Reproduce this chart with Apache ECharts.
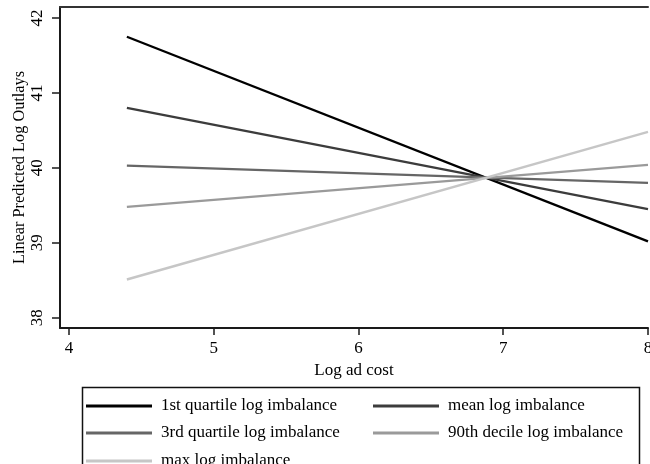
<!DOCTYPE html>
<html>
<head>
<meta charset="utf-8">
<script src="https://cdn.jsdelivr.net/npm/echarts@6/dist/echarts.min.js"></script>
<style>
html,body{margin:0;padding:0;background:#fff;}
#chart{width:650px;height:464px;}
</style>
</head>
<body>
<div id="chart"></div>
<script>
// Data
const logAdCost = [4.4, 8];
const seriesNames = ['1st quartile log imbalance', 'mean log imbalance', '3rd quartile log imbalance', '90th decile log imbalance', 'max log imbalance'];
const firstQuartile = [41.75, 39.02];
const meanImbalance = [40.80, 39.45];
const thirdQuartile = [40.03, 39.80];
const decile90 = [39.48, 40.04];
const maxImbalance = [38.51, 40.48];
const xTicks = [4, 5, 6, 7, 8];
const yTicks = [38, 39, 40, 41, 42];

const seriesValues = [firstQuartile, meanImbalance, thirdQuartile, decile90, maxImbalance];
const colors = ['#000000', '#3c3c3c', '#666666', '#9a9a9a', '#c6c6c6'];
const FONT = '"Liberation Serif", "Times New Roman", serif';

const chart = echarts.init(document.getElementById('chart'), null, {renderer: 'canvas'});

const series = seriesNames.map((name, i) => ({
  name: name,
  type: 'line',
  symbol: 'none',
  color: colors[i],
  lineStyle: {width: 2.4, color: colors[i]},
  data: logAdCost.map((x, j) => [x, seriesValues[i][j]]),
  animation: false
}));

const axisLineStyle = {color: '#1a1a1a', width: 2};

// legend positions (left, top) for each series, two columns x three rows
const legendSlots = [[86, 396], [373, 396], [86, 423], [373, 423], [86, 451]];
const legends = seriesNames.map((name, i) => ({
  data: [name],
  orient: 'horizontal',
  left: legendSlots[i][0],
  top: legendSlots[i][1],
  itemWidth: 66,
  itemHeight: 3,
  icon: 'rect',
  selectedMode: false,
  padding: 0,
  textStyle: {fontFamily: FONT, fontSize: 17, color: '#000', lineHeight: 20, padding: [0, 0, 0, 4]}
}));

chart.setOption({
  backgroundColor: '#ffffff',
  animation: false,
  textStyle: {fontFamily: FONT},
  grid: {left: 60, top: 7, right: 2, bottom: 136, containLabel: false, outerBoundsMode: 'none'},
  xAxis: [{
    type: 'value',
    min: 3.938,
    max: 8,
    name: 'Log ad cost',
    nameLocation: 'middle',
    nameGap: 29,
    nameTextStyle: {fontFamily: FONT, fontSize: 17, color: '#000'},
    axisLine: {show: true, lineStyle: axisLineStyle},
    axisTick: {show: true, length: 7, customValues: xTicks, lineStyle: {color: '#1a1a1a', width: 1.5}},
    axisLabel: {customValues: xTicks, fontFamily: FONT, fontSize: 17, color: '#000', margin: 12, hideOverlap: false},
    splitLine: {show: false}
  }, {
    type: 'value',
    position: 'top',
    min: 3.938,
    max: 8.02,
    axisLine: {show: true, lineStyle: {color: '#333', width: 2}},
    axisTick: {show: false},
    axisLabel: {show: false},
    splitLine: {show: false}
  }],
  yAxis: {
    type: 'value',
    min: 37.863,
    max: 42.147,
    name: 'Linear Predicted Log Outlays',
    nameLocation: 'middle',
    nameRotate: 90,
    nameGap: 32,
    nameMoveOverlap: false,
    nameTextStyle: {fontFamily: FONT, fontSize: 16.3, color: '#000'},
    axisLine: {show: true, lineStyle: axisLineStyle},
    axisTick: {show: true, length: 8, customValues: yTicks, lineStyle: {color: '#1a1a1a', width: 1.5}},
    axisLabel: {customValues: yTicks, rotate: 90, fontFamily: FONT, fontSize: 17, color: '#000', margin: 14},
    splitLine: {show: false}
  },
  legend: legends,
  graphic: [{
    type: 'rect',
    left: 80,
    top: 385,
    shape: {width: 557, height: 120},
    style: {fill: 'none', stroke: '#111', lineWidth: 1.5},
    silent: true
  }],
  series: series
});
</script>
</body>
</html>
